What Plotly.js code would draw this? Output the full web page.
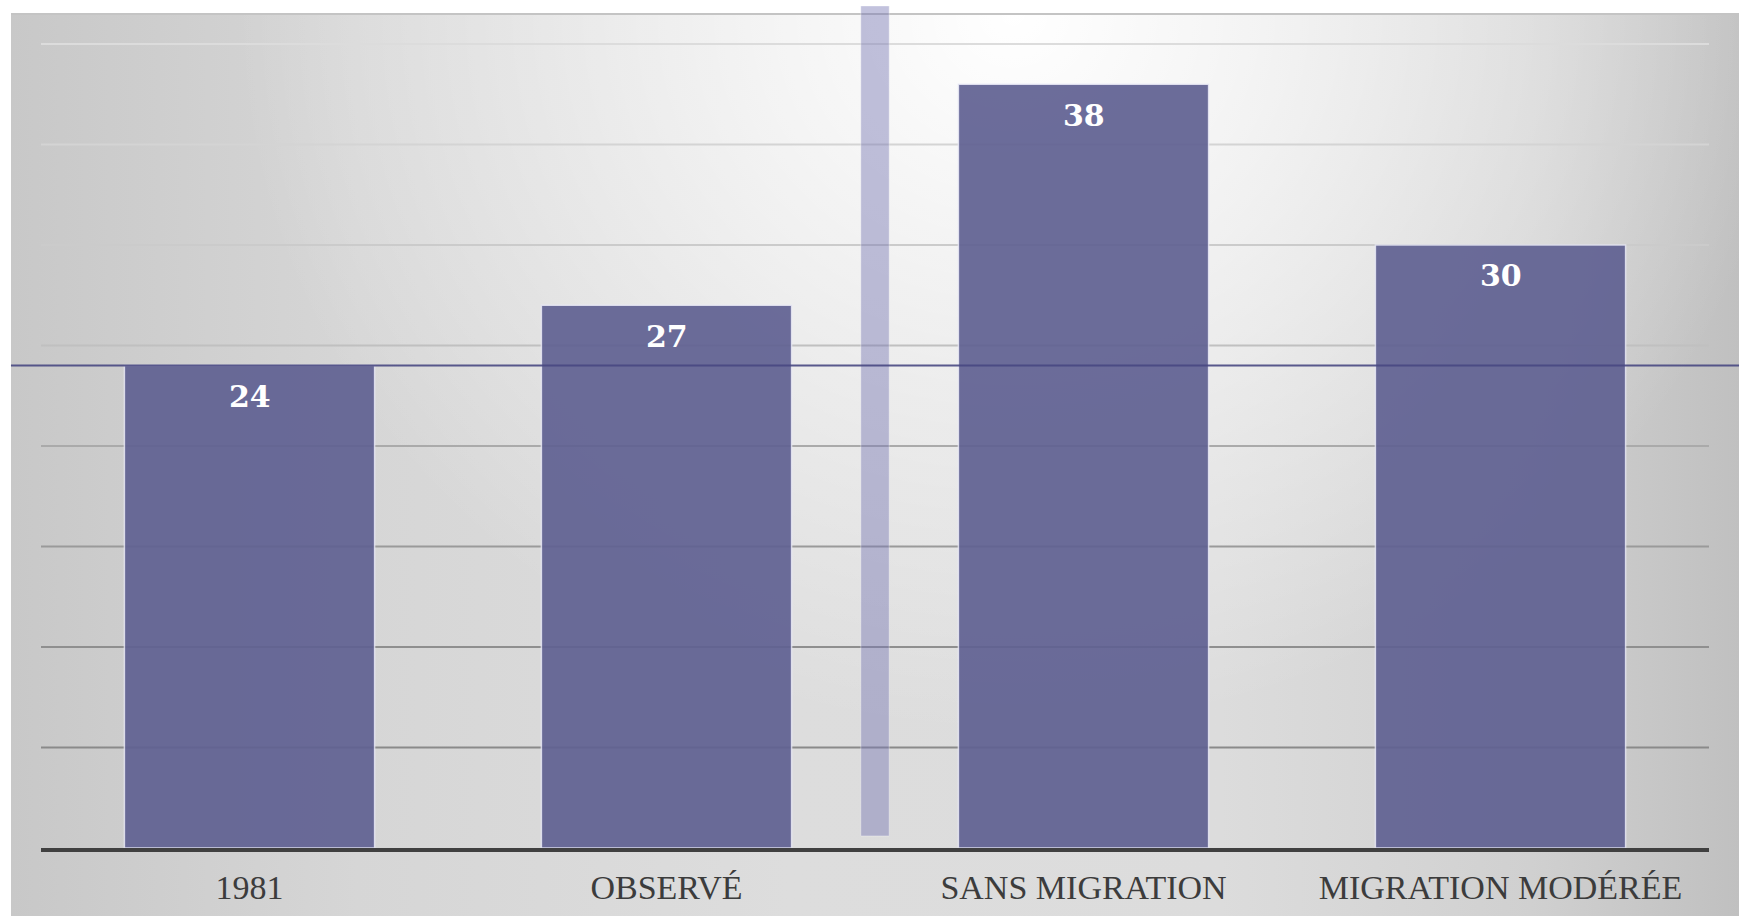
<!DOCTYPE html>
<html>
<head>
<meta charset="utf-8">
<script src="https://cdn.plot.ly/plotly-3.0.1.min.js"></script>
<style>
  html, body { margin: 0; padding: 0; background: #ffffff; }
  #wrap { position: relative; width: 1743px; height: 916px; overflow: hidden; }
  #bg {
    position: absolute; left: 11px; top: 13px; right: 4px; bottom: 0;
    border-top: 2px solid #c4c4c4;
    background:
      radial-gradient(ellipse 45% 80% at 58% 0%, rgba(255,255,255,1) 0%, rgba(255,255,255,0.55) 45%, rgba(255,255,255,0) 100%),
      linear-gradient(to right, #c8c8c8 0%, #d6d6d6 20%, #dddddd 45%, #dcdcdc 70%, #d0d0d0 88%, #c0c0c0 100%);
  }
  #chart { position: absolute; left: 0; top: 0; width: 1743px; height: 916px; }
</style>
</head>
<body>
<div id="wrap">
  <div id="bg"></div>
  <div id="chart"></div>
</div>
<script>
// ---- data ----
const categories = ["1981", "OBSERVÉ", "SANS MIGRATION", "MIGRATION MODÉRÉE"];
const values = [24, 27, 38, 30];
const gridValues = [5, 10, 15, 20, 25, 30, 35, 40];

// ---- styles ----
const gridColors = ["#8a8a8a", "#8f8f8f", "#9a9a9a", "#aaaaaa", "#c0c0c0", "#cbcbcb", "#d4d4d4", "#dcdcdc"];
const barColor = "rgb(96,97,146)";
const labelFont = { family: "DejaVu Serif", size: 30, color: "#ffffff", weight: "bold" };
const tickFont = { family: "Liberation Serif", size: 34, color: "#3c3c3c" };

const trace = {
  type: "bar",
  x: categories,
  y: values,
  marker: { color: barColor, opacity: 0.92, line: { color: "rgba(235,235,248,0.85)", width: 1.5 } },
  hoverinfo: "x+y"
};

const shapes = [];
gridValues.forEach((v, i) => {
  shapes.push({
    type: "line", layer: "below", xref: "paper", yref: "y",
    x0: 0, x1: 1, y0: v, y1: v,
    line: { color: gridColors[i], width: 2 }
  });
});
// separator band between observed and projected scenarios
shapes.push({
  type: "rect", layer: "above", xref: "x", yref: "y",
  x0: 1.466, x1: 1.534, y0: 0.6, y1: 41.89,
  fillcolor: "rgba(120,120,180,0.45)",
  line: { color: "rgba(255,255,255,0.35)", width: 1 }
});
// reference line at the 1981 level
shapes.push({
  type: "line", layer: "above", xref: "paper", yref: "y",
  x0: -0.018, x1: 1.018, y0: values[0], y1: values[0],
  line: { color: "rgba(72,72,130,0.9)", width: 2 }
});

// data labels (x given by category index so "1981" is not read as a number)
const annotations = values.map((v, i) => ({
  x: i, y: v, xref: "x", yref: "y",
  text: String(v),
  showarrow: false,
  yanchor: "middle",
  yshift: -31,
  font: labelFont
}));

const layout = {
  width: 1743, height: 916,
  margin: { l: 41, r: 34, t: 6, b: 68, pad: 0 },
  paper_bgcolor: "rgba(0,0,0,0)",
  plot_bgcolor: "rgba(0,0,0,0)",
  bargap: 0.4,
  showlegend: false,
  xaxis: {
    type: "category",
    categoryorder: "array", categoryarray: categories,
    range: [-0.5, 3.5],
    showgrid: false, zeroline: false,
    showline: true, linecolor: "#404040", linewidth: 4,
    ticks: "", tickfont: tickFont,
    ticklabelstandoff: 6
  },
  yaxis: {
    range: [0, 41.89],
    showgrid: false, zeroline: false, showline: false,
    showticklabels: false, ticks: ""
  },
  shapes: shapes,
  annotations: annotations
};

Plotly.newPlot("chart", [trace], layout, { displayModeBar: false, staticPlot: true });
</script>
</body>
</html>
